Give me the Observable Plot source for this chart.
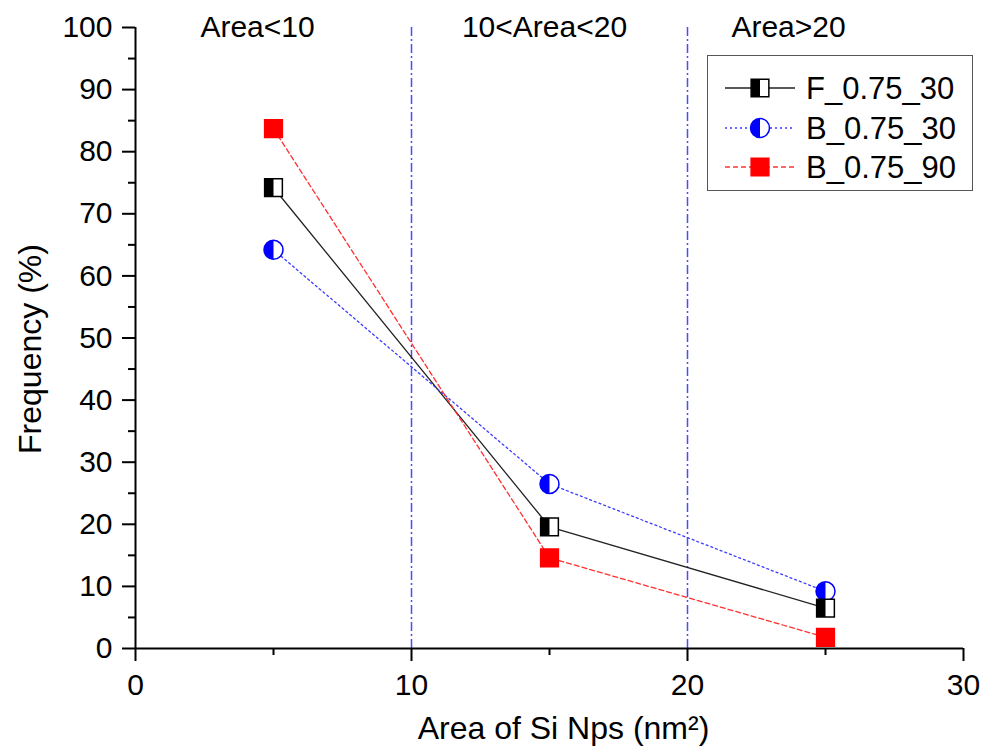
<!DOCTYPE html>
<html>
<head>
<meta charset="utf-8">
<script src="https://cdn.jsdelivr.net/npm/d3@7"></script>
<script src="https://cdn.jsdelivr.net/npm/@observablehq/plot@0.6"></script>
<style>
  body { margin: 0; background: #fff; font-family: "Liberation Sans", Arial, sans-serif; }
  #wrap { position: relative; width: 984px; height: 746px; }
  #legend { position: absolute; left: 707px; top: 55px; width: 266px; height: 136px;
            border: 1.5px solid #555; background: #fff; box-sizing: border-box; }
</style>
</head>
<body>
<div id="wrap"><div id="chart"></div><div id="legend"></div></div>
<script>
// ---- data ----
const xValues = [5, 15, 25];
const seriesNames = ["F_0.75_30", "B_0.75_30", "B_0.75_90"];
const fValues = [74.2, 19.6, 6.5];
const b30Values = [64.2, 26.5, 9.2];
const b90Values = [83.7, 14.6, 1.8];
const regionLabels = ["Area<10", "10<Area<20", "Area>20"];
const regionCenters = [5, 15, 25];
const boundaries = [10, 20];
const xTicks = [0, 10, 20, 30];
const xMinorTicks = [5, 15, 25];
const yTicks = [0, 10, 20, 30, 40, 50, 60, 70, 80, 90, 100];
const yMinorTicks = [5, 15, 25, 35, 45, 55, 65, 75, 85, 95];

// ---- styles ----
const styles = [
  {line: "#222", dash: null, color: "#000", shape: "square", half: true, r: 10},
  {line: "#3b3bff", dash: "2,3", color: "#0000ff", shape: "circle", half: true, r: 9.5},
  {line: "#ff3030", dash: "5,3", color: "#ff0000", shape: "square", half: false, r: 10}
];
const valueLists = [fValues, b30Values, b90Values];
const series = seriesNames.map((name, i) => ({
  name, rows: xValues.map((x, j) => ({x, y: valueLists[i][j]})), ...styles[i]
}));

const halfSquare = {draw(ctx, size) {
  const h = Math.sqrt(size) / 2;
  ctx.moveTo(-h, -h); ctx.lineTo(0, -h); ctx.lineTo(0, h); ctx.lineTo(-h, h); ctx.closePath();
}};
const halfCircle = {draw(ctx, size) {
  const r = Math.sqrt(size / Math.PI);
  ctx.moveTo(0, -r); ctx.arc(0, 0, r, -Math.PI / 2, Math.PI / 2, true); ctx.closePath();
}};

const font = "Liberation Sans, Arial, sans-serif";
const marks = [];
marks.push(Plot.ruleX(boundaries, {stroke: "#4a4aff", strokeWidth: 1.5, strokeDasharray: "9,3,2,3"}));
for (const s of series) {
  marks.push(Plot.line(s.rows, {x: "x", y: "y", stroke: s.line, strokeWidth: 1.3, strokeDasharray: s.dash}));
}
for (const idx of [1, 0, 2]) {
  const s = series[idx];
  marks.push(Plot.dot(s.rows, {x: "x", y: "y", symbol: s.shape, r: s.r,
    fill: s.half ? "white" : s.color, stroke: s.color, strokeWidth: 1.5}));
  if (s.half) marks.push(Plot.dot(s.rows, {x: "x", y: "y", symbol: s.shape === "square" ? halfSquare : halfCircle,
    r: s.r, fill: s.color, stroke: "none"}));
}
// axes
marks.push(Plot.axisY({ticks: yTicks, tickSize: 13, tickPadding: 10, strokeWidth: 2, stroke: "#000", fontSize: 30, label: null, tickFormat: d => d}));
marks.push(Plot.axisY({ticks: yMinorTicks, tickSize: 7, strokeWidth: 2, stroke: "#000", label: null, tickFormat: () => ""}));
marks.push(Plot.axisX({ticks: xTicks, tickSize: 13, tickPadding: 12, strokeWidth: 2, stroke: "#000", fontSize: 30, label: null, tickFormat: d => d}));
marks.push(Plot.axisX({ticks: xMinorTicks, tickSize: 7, strokeWidth: 2, stroke: "#000", label: null, tickFormat: () => ""}));
marks.push(Plot.ruleX([0], {strokeWidth: 2}));
marks.push(Plot.ruleY([0], {strokeWidth: 2}));
// titles
marks.push(Plot.text(["Frequency (%)"], {frameAnchor: "left", textAnchor: "middle", lineAnchor: "middle",
  dx: -105, dy: 11, rotate: -90, fontSize: 32}));
marks.push(Plot.text(["Area of Si Nps (nm²)"], {frameAnchor: "bottom", textAnchor: "middle", lineAnchor: "middle",
  dx: 14, dy: 80, fontSize: 32}));
// region labels
const regionDx = [-16, -5, -37];
regionLabels.forEach((lab, i) => {
  marks.push(Plot.text([lab], {x: () => regionCenters[i], frameAnchor: "top", lineAnchor: "middle",
    dx: regionDx[i], dy: 0, fontSize: 30}));
});

const chart = Plot.plot({
  width: 984, height: 746,
  marginLeft: 135, marginRight: 21, marginTop: 27, marginBottom: 98,
  x: {domain: [0, 30]},
  y: {domain: [0, 100]},
  style: {fontFamily: font, color: "#000", background: "white", overflow: "visible"},
  marks
});
document.getElementById("chart").appendChild(chart);

// legend
const lg = d3.select("#legend").append("svg").attr("width", 263).attr("height", 133)
  .style("font-family", font);
const rowY = [32, 72, 111];
series.forEach((s, i) => {
  const g = lg.append("g").attr("transform", `translate(0,${rowY[i]})`);
  g.append("line").attr("x1", 17).attr("x2", 87).attr("stroke", s.line).attr("stroke-width", 1.3)
    .attr("stroke-dasharray", s.dash);
  const size = Math.PI * s.r * s.r;
  const baseType = s.shape === "square" ? d3.symbolSquare : d3.symbolCircle;
  g.append("path").attr("transform", "translate(52,0)").attr("d", d3.symbol(baseType, size)())
    .attr("fill", s.half ? "white" : s.color).attr("stroke", s.color).attr("stroke-width", 1.5);
  if (s.half) g.append("path").attr("transform", "translate(52,0)")
    .attr("d", d3.symbol(s.shape === "square" ? halfSquare : halfCircle, size)()).attr("fill", s.color);
  g.append("text").attr("x", 98).attr("dy", "0.35em").attr("font-size", 31).text(s.name);
});
</script>
</body>
</html>
